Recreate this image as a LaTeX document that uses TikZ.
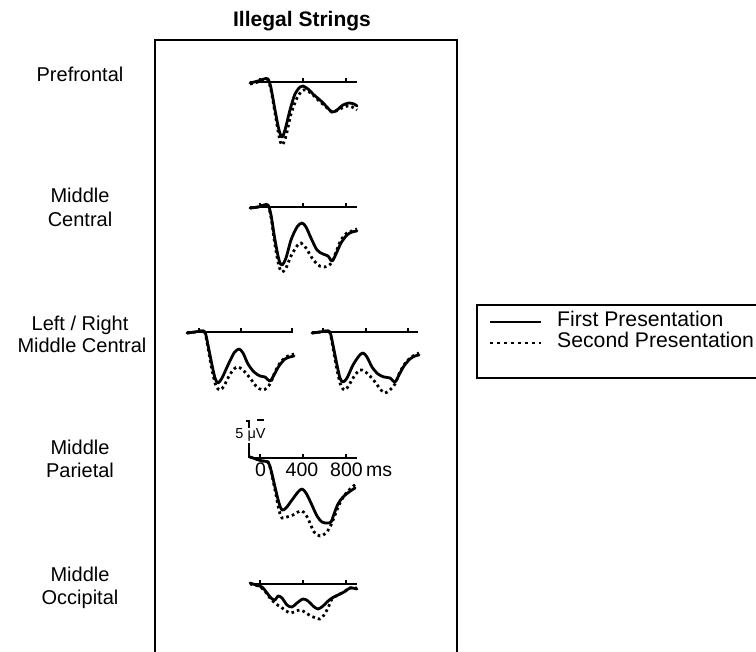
\documentclass[tikz,border=0pt]{standalone}
\usepackage{fontspec}
\setmainfont{Liberation Sans}
\begin{document}
\begin{tikzpicture}[x=1pt,y=-1pt,
  lbl/.style={anchor=base,inner sep=0pt,font=\fontsize{20}{23}\selectfont},
  ticklbl/.style={anchor=base,inner sep=0pt,font=\fontsize{19.5}{22}\selectfont},
  axisline/.style={line width=1.3pt},
  solidwave/.style={line width=2.8pt,line cap=round,line join=round},
  dotwave/.style={line width=2.8pt,dash pattern=on 2.6pt off 3.2pt},
  frame/.style={line width=1.5pt}]
\useasboundingbox (0,0) rectangle (756,652);
% title and panel
\node[anchor=base,inner sep=0pt,font=\fontsize{21}{24}\selectfont\bfseries] (title) at (302,27) {Illegal Strings};
\draw[frame] (155,660) -- (155,40) -- (457,40) -- (457,660);
% row labels
\node[lbl] (pf) at (80,82) {Prefrontal};
\node[lbl] (mc1) at (80,203) {Middle};
\node[lbl] (mc2) at (80,227) {Central};
\node[lbl] (lr1) at (80,331) {Left / Right};
\node[lbl] (lr2) at (82,353) {Middle Central};
\node[lbl] (mp1) at (80,455) {Middle};
\node[lbl] (mp2) at (80,478) {Parietal};
\node[lbl] (mo1) at (80,581) {Middle};
\node[lbl] (mo2) at (80,604) {Occipital};
% ---------- Prefrontal
\draw[dotwave] plot[smooth,tension=0.5] coordinates {(250,84) (258,82) (264,80) (268,80) (271,90) (275,113) (279,136) (282,145) (286,136) (291,114) (297,98) (302,91) (306,90) (312,94) (318,100) (325,106) (332,112) (338,110) (344,107) (350,106) (357,110)};
\draw[solidwave] plot[smooth,tension=0.5] coordinates {(250,83) (258,81) (264,79) (268,79) (271,88) (275,110) (279,130) (282,137) (285,130) (290,110) (295,94) (300,87) (303,86) (308,89) (314,95) (320,100) (326,106) (332,112) (337,110) (343,105) (349,103) (354,104) (357,106)};
\draw[axisline] (250,82) -- (357,82) (303,82) -- (303,78) (346,82) -- (346,78) (260,82) -- (260,78);
% ---------- Middle Central
\draw[dotwave] plot[smooth,tension=0.5] coordinates {(250,208) (258,207) (264,205) (268,206) (271,217) (275,245) (279,266) (282,272) (286,268) (291,256) (297,246) (301,243) (306,248) (312,258) (318,265) (323,267) (328,266) (332,262) (336,252) (341,240) (347,233) (352,231) (357,229)};
\draw[solidwave] plot[smooth,tension=0.5] coordinates {(250,208) (258,207) (264,205) (268,205) (271,215) (275,240) (279,260) (282,265) (286,258) (291,240) (297,227) (302,223) (306,227) (311,238) (317,250) (323,254) (328,256) (332,261) (336,254) (341,243) (347,235) (352,232) (357,231)};
\draw[axisline] (250,207) -- (357,207) (260,207) -- (260,203) (303,207) -- (303,203) (346,207) -- (346,203);
% ---------- Left / Right
\draw[dotwave] plot[smooth,tension=0.5] coordinates {(187,333) (195,332) (201,331) (205,333) (208,348) (212,370) (216,386) (220,390) (224,386) (229,376) (234,369) (238,367) (243,370) (250,378) (256,386) (262,390) (267,388) (271,382) (275,372) (280,363) (286,357) (291,355) (294,354)};
\draw[solidwave] plot[smooth,tension=0.5] coordinates {(187,333) (195,332) (201,331) (205,332) (208,345) (212,365) (215,378) (218,383) (222,378) (228,365) (234,353) (239,349) (243,353) (248,364) (254,372) (260,376) (265,377) (270,381) (274,375) (279,366) (285,359) (290,357) (294,356)};
\draw[axisline] (187,332) -- (293,332) (199,332) -- (199,328) (241,332) -- (241,328) (292,332) -- (292,328);
\draw[dotwave] plot[smooth,tension=0.5] coordinates {(312,333) (320,332) (326,331) (330,333) (333,348) (337,370) (341,386) (345,390) (349,385) (355,375) (360,370) (364,371) (369,375) (375,382) (381,390) (385,393) (390,390) (395,384) (399,374) (404,365) (410,358) (415,355) (419,353)};
\draw[solidwave] plot[smooth,tension=0.5] coordinates {(312,333) (320,332) (326,331) (330,332) (333,345) (337,365) (340,378) (343,382) (347,378) (353,365) (359,356) (363,353) (367,357) (372,367) (378,374) (384,377) (390,378) (395,382) (399,375) (404,366) (410,359) (415,356) (419,355)};
\draw[axisline] (312,332) -- (418,332) (323,332) -- (323,328) (366,332) -- (366,328) (408,332) -- (408,328);
% ---------- Middle Parietal
\draw[dotwave] plot[smooth,tension=0.5] coordinates {(250,457) (256,459) (262,461) (268,462) (271,471) (275,490) (279,510) (282,518) (287,517) (293,515) (298,512) (302,511) (306,515) (310,523) (314,532) (320,536) (326,533) (331,525) (335,515) (339,505) (344,496) (350,489) (356,484)};
\draw[solidwave] plot[smooth,tension=0.5] coordinates {(250,457) (256,459) (262,461) (268,462) (271,470) (275,487) (279,503) (282,510) (286,508) (292,500) (298,492) (302,489) (306,493) (311,503) (317,516) (322,522) (327,523) (331,522) (334,514) (338,504) (343,497) (349,492) (355,488)};
\draw[axisline] (250,458) -- (357,458) (260,458) -- (260,454) (303,458) -- (303,454) (346,458) -- (346,454);
\draw[axisline] (246,421) -- (249,421) -- (249,458);
\draw[axisline] (257,420) -- (264,420);
\node[anchor=base,inner sep=1pt,fill=white,font=\fontsize{14.5}{16}\selectfont] (uv) at (250.5,439) {5 μV};
\node[ticklbl] (t0) at (260.5,477) {0};
\node[ticklbl] (t400) at (302,477) {400};
\node[ticklbl] (t800) at (346.5,477) {800};
\node[ticklbl,anchor=base west] (tms) at (366,477) {ms};
% ---------- Middle Occipital
\draw[dotwave] plot[smooth,tension=0.5] coordinates {(250,584) (258,586) (264,590) (270,598) (276,604) (281,607) (286,611) (291,613) (296,611) (301,610) (306,613) (311,616) (316,618) (320,619) (324,615) (328,608) (332,599) (338,595) (344,592) (350,588) (357,588)};
\draw[solidwave] plot[smooth,tension=0.5] coordinates {(250,583) (256,585) (262,587) (267,593) (271,598) (275,600) (278,596) (282,598) (287,605) (292,607) (297,603) (303,599) (308,601) (313,606) (318,609) (323,606) (327,602) (332,598) (338,595) (344,592) (350,588) (357,589)};
\draw[axisline] (250,584) -- (357,584) (260,584) -- (260,580) (303,584) -- (303,580) (346,584) -- (346,580);
% ---------- Legend
\draw[frame] (770,305) -- (477,305) -- (477,378) -- (770,378);
\coordinate (l1a) at (490,322); \coordinate (l1b) at (541,322);
\coordinate (l2a) at (490,343); \coordinate (l2b) at (541,343);
\draw[line width=2.6pt] (l1a) -- (l1b);
\draw[line width=2.6pt,dash pattern=on 2.8pt off 4.2pt] (l2a) -- (l2b);
\node[anchor=base west,inner sep=0pt,font=\fontsize{21.2}{23}\selectfont] (leg1) at (557,327) {First Presentation};
\node[anchor=base west,inner sep=0pt,font=\fontsize{21.2}{23}\selectfont] (leg2) at (557,348) {Second Presentation};
\end{tikzpicture}
\end{document}
